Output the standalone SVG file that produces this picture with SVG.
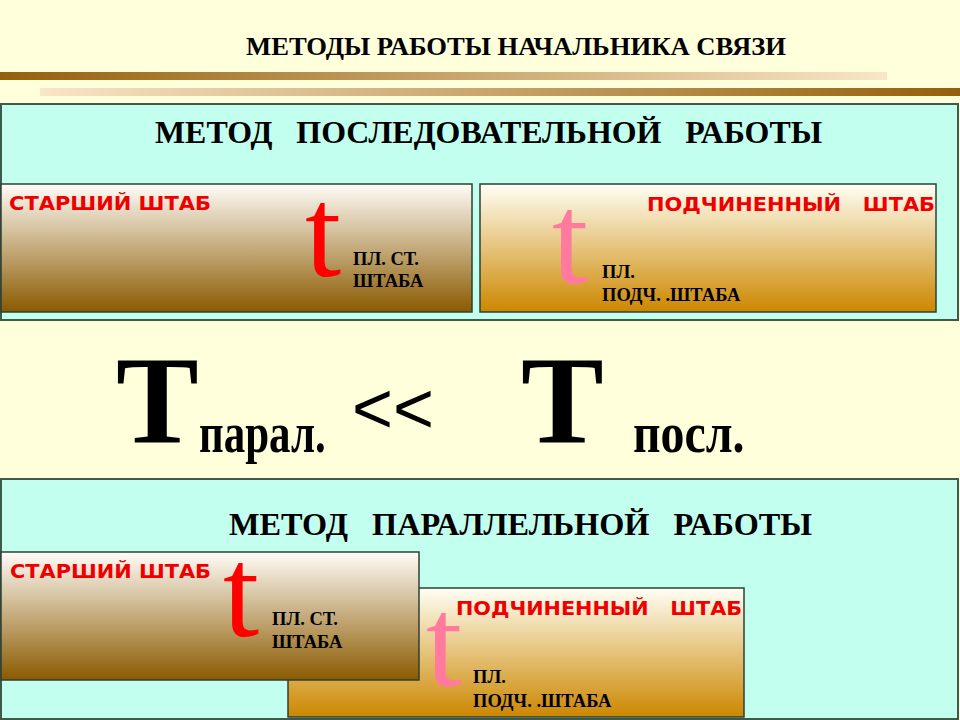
<svg xmlns="http://www.w3.org/2000/svg" width="960" height="720" viewBox="0 0 960 720">
<defs>
<linearGradient id="bar1" x1="0" y1="0" x2="1" y2="0">
<stop offset="0" stop-color="#94600A"/>
<stop offset="1" stop-color="#F8E6C8"/>
</linearGradient>
<linearGradient id="bar2" x1="0" y1="0" x2="1" y2="0">
<stop offset="0" stop-color="#F8E6C8"/>
<stop offset="1" stop-color="#94600A"/>
</linearGradient>
<linearGradient id="gDark" x1="0" y1="0" x2="0" y2="1">
<stop offset="0" stop-color="#FFFCF8"/>
<stop offset="1" stop-color="#8A5A00"/>
</linearGradient>
<linearGradient id="gGold" x1="0" y1="0" x2="0" y2="1">
<stop offset="0" stop-color="#FFFFF6"/>
<stop offset="1" stop-color="#CC8700"/>
</linearGradient>
</defs>
<style>
.panel{fill:#C3FFEE;stroke:#3E5A4A;stroke-width:2}
.box{stroke:#2F3F35;stroke-width:1.5}
.head{font-family:"Liberation Serif","Times New Roman",serif;font-weight:bold;fill:#000}
.red{font-family:"DejaVu Sans",Verdana,sans-serif;font-weight:bold;fill:#EE0000;font-size:19.5px}
.t{font-family:"Liberation Serif","Times New Roman",serif;font-size:130px}
.small{font-family:"Liberation Serif","Times New Roman",serif;font-weight:bold;font-size:18.5px;fill:#000}
.big{font-family:"Liberation Serif","Times New Roman",serif;font-weight:bold;fill:#000}
text{white-space:pre}
</style>
<rect x="0" y="0" width="960" height="720" fill="#FFFFDC"/>
<g id="title">
<text class="head" x="246" y="55" font-size="26" textLength="540" lengthAdjust="spacingAndGlyphs">МЕТОДЫ РАБОТЫ НАЧАЛЬНИКА СВЯЗИ</text>
<rect x="0" y="72" width="887" height="8" fill="url(#bar1)"/>
<rect x="40" y="88" width="920" height="8" fill="url(#bar2)"/>
</g>
<g id="panel-seq">
<rect class="panel" x="1" y="104" width="957" height="216"/>
<text class="head" x="155" y="143" font-size="31" textLength="667" lengthAdjust="spacingAndGlyphs">МЕТОД   ПОСЛЕДОВАТЕЛЬНОЙ   РАБОТЫ</text>
</g>
<g id="seq-senior">
<rect class="box" x="1" y="184" width="471" height="128" fill="url(#gDark)"/>
<text class="red" x="9" y="210" textLength="202" lengthAdjust="spacingAndGlyphs">СТАРШИЙ ШТАБ</text>
<text class="t" x="305" y="276" fill="#FF0000">t</text>
<text class="small" x="353" y="265">ПЛ. СТ.</text>
<text class="small" x="353" y="287">ШТАБА</text>
</g>
<g id="seq-sub">
<rect class="box" x="480" y="184" width="456" height="128" fill="url(#gGold)"/>
<text class="red" x="647" y="211" textLength="288" lengthAdjust="spacingAndGlyphs">ПОДЧИНЕННЫЙ   ШТАБ</text>
<text class="t" x="552" y="283" fill="#FF7A9C">t</text>
<text class="small" x="602" y="278">ПЛ.</text>
<text class="small" x="602" y="301">ПОДЧ. .ШТАБА</text>
</g>
<g id="formula">
<text class="big" x="116" y="443" font-size="124">Т</text>
<text class="big" transform="translate(199,452) scale(0.72,1)" x="0" y="0" font-size="58" textLength="176" lengthAdjust="spacingAndGlyphs">парал.</text>
<text x="352" y="433" font-family="Liberation Sans, Arial, sans-serif" font-size="73" fill="#000" textLength="82" lengthAdjust="spacingAndGlyphs">&lt;&lt;</text>
<text class="big" x="521" y="443" font-size="124">Т</text>
<text class="big" transform="translate(633,452) scale(0.72,1)" x="0" y="0" font-size="58" textLength="155" lengthAdjust="spacingAndGlyphs">посл.</text>
</g>
<g id="panel-par">
<rect class="panel" x="1" y="479" width="957" height="240"/>
<text class="head" x="229" y="535" font-size="31" textLength="583" lengthAdjust="spacingAndGlyphs">МЕТОД   ПАРАЛЛЕЛЬНОЙ   РАБОТЫ</text>
</g>
<g id="par-sub">
<rect class="box" x="288" y="588" width="456" height="129" fill="url(#gGold)"/>
<text class="red" x="456" y="615" textLength="286" lengthAdjust="spacingAndGlyphs">ПОДЧИНЕННЫЙ   ШТАБ</text>
<text class="t" x="426" y="686" fill="#FF7A9C">t</text>
<text class="small" x="473" y="683">ПЛ.</text>
<text class="small" x="473" y="707">ПОДЧ. .ШТАБА</text>
</g>
<g id="par-senior">
<rect class="box" x="1" y="552" width="418" height="128" fill="url(#gDark)"/>
<text class="red" x="10" y="578" textLength="201" lengthAdjust="spacingAndGlyphs">СТАРШИЙ ШТАБ</text>
<text class="t" x="223" y="636" fill="#FF0000">t</text>
<text class="small" x="272" y="625">ПЛ. СТ.</text>
<text class="small" x="272" y="648">ШТАБА</text>
</g>
<g id="connectors"></g>
</svg>
